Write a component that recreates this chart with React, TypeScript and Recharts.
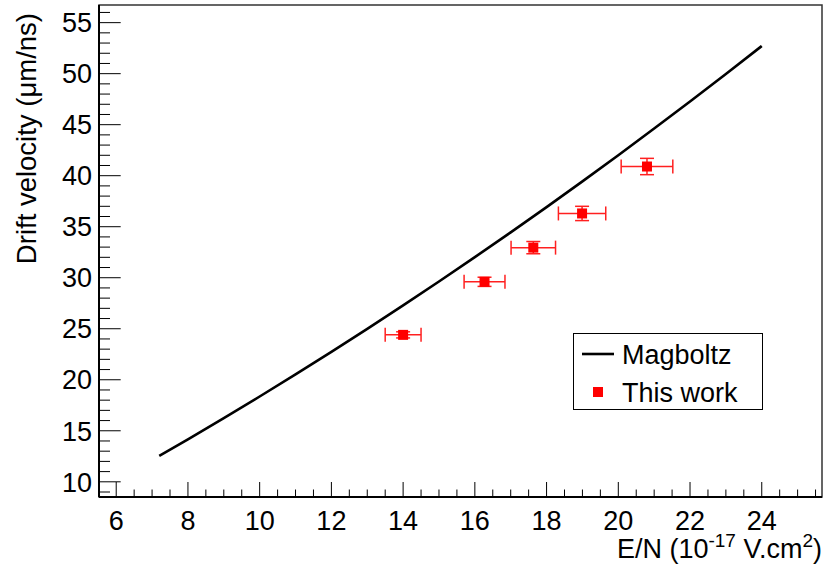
import React from 'react';
import {
  ComposedChart,
  Line,
  Scatter,
  ErrorBar,
  XAxis,
  YAxis,
  ReferenceArea,
} from 'recharts';

// Magboltz simulation curve
const magX = [7.2, 8, 9, 10, 11, 12, 13, 14, 15, 16, 17, 18, 19, 20, 21, 22, 23, 24];
const magY = [12.53, 14.16, 16.24, 18.36, 20.52, 22.73, 24.99, 27.29, 29.63, 32.02, 34.45, 36.92, 39.44, 42.01, 44.62, 47.27, 49.97, 52.71];

// measured points ("This work")
const workX = [14.0, 16.27, 17.63, 18.99, 20.8];
const workY = [24.4, 29.6, 32.95, 36.3, 40.9];
const workEx = [0.5, 0.57, 0.62, 0.66, 0.72];
const workEy = [0.3, 0.45, 0.6, 0.7, 0.8];

const xMajor = [6, 8, 10, 12, 14, 16, 18, 20, 22, 24];
const yMajor = [10, 15, 20, 25, 30, 35, 40, 45, 50, 55];

const X_MIN = 5.52;
const X_MAX = 25.68;
const Y_MIN = 8.51;
const Y_MAX = 56.73;

const W = 827;
const H = 567;
const LEFT = 99;
const RIGHT = 822;
const TOP = 5;
const BOTTOM = 497;
const FONT = "'Liberation Sans', Arial, Helvetica, sans-serif";

const xTicks: number[] = [];
for (let v = 6; v <= 25.5; v += 0.5) xTicks.push(v);
const yTicks: number[] = [];
for (let v = 9; v <= 56; v += 1) yTicks.push(v);

const magData = magX.map((x, i) => ({ x, y: magY[i] }));
const workData = workX.map((x, i) => ({ x, y: workY[i], ex: workEx[i], ey: workEy[i] }));

function XTick(props: any) {
  const { x, payload } = props;
  const major = xMajor.includes(payload.value);
  const len = major ? 15 : 7.5;
  return (
    <g>
      <line x1={x} x2={x} y1={BOTTOM} y2={BOTTOM - len} stroke="#000" strokeWidth={1} />
      {major && (
        <text x={x} y={530} textAnchor="middle" fontSize={27} fontFamily={FONT} fill="#000">
          {payload.value}
        </text>
      )}
    </g>
  );
}

function YTick(props: any) {
  const { y, payload } = props;
  const major = yMajor.includes(payload.value);
  const len = major ? 21.7 : 11;
  return (
    <g>
      <line x1={LEFT} x2={LEFT + len} y1={y} y2={y} stroke="#000" strokeWidth={1} />
      {major && (
        <text x={92} y={y} dy="0.36em" textAnchor="end" fontSize={27} fontFamily={FONT} fill="#000">
          {payload.value}
        </text>
      )}
    </g>
  );
}

function SquareMarker(props: any) {
  const { cx, cy } = props;
  return <rect x={cx - 5} y={cy - 5} width={10} height={10} fill="#ff0000" />;
}

function YTitle(props: any) {
  const vb = props.viewBox || { x: 0, y: TOP };
  return (
    <text
      transform={`translate(${vb.x + 36}, ${vb.y + 8}) rotate(-90)`}
      textAnchor="end"
      fontSize={27.5}
      fontFamily={FONT}
      fill="#000"
    >
      Drift velocity (μm/ns)
    </text>
  );
}

function XTitle(props: any) {
  const vb = props.viewBox || { x: LEFT, width: RIGHT - LEFT };
  return (
    <text x={vb.x + vb.width} y={558} textAnchor="end" fontSize={27} fontFamily={FONT} fill="#000">
      E/N (10
      <tspan dy={-11} fontSize={19}>-17</tspan>
      <tspan dy={11}> V.cm</tspan>
      <tspan dy={-11} fontSize={19}>2</tspan>
      <tspan dy={11}>)</tspan>
    </text>
  );
}

export default function App() {
  return (
    <div style={{ position: 'relative', width: W, height: H, background: '#fff' }}>
      <style>{'body{margin:0}'}</style>
      <ComposedChart
        width={W}
        height={H}
        margin={{ top: TOP, right: W - RIGHT, bottom: 0, left: 0 }}
      >
        <XAxis
          type="number"
          dataKey="x"
          domain={[X_MIN, X_MAX]}
          ticks={xTicks}
          interval={0}
          allowDataOverflow
          height={H - BOTTOM}
          tickLine={false}
          axisLine={{ stroke: '#000', strokeWidth: 2 }}
          tick={<XTick />}
          label={<XTitle />}
        />
        <YAxis
          type="number"
          dataKey="y"
          domain={[Y_MIN, Y_MAX]}
          ticks={yTicks}
          interval={0}
          allowDataOverflow
          width={LEFT}
          tickLine={false}
          axisLine={{ stroke: '#000', strokeWidth: 2 }}
          tick={<YTick />}
          label={<YTitle />}
        />
        <ReferenceArea
          x1={X_MIN}
          x2={X_MAX}
          y1={Y_MIN}
          y2={Y_MAX}
          fill="none"
          stroke="#333"
          strokeWidth={1.5}
          ifOverflow="extendDomain"
        />
        <Line
          data={magData}
          dataKey="y"
          type="monotone"
          stroke="#000"
          strokeWidth={2.6}
          dot={false}
          activeDot={false}
          isAnimationActive={false}
        />
        <Scatter data={workData} dataKey="y" shape={<SquareMarker />} isAnimationActive={false}>
          <ErrorBar dataKey="ex" direction="x" width={7} stroke="#ff2020" strokeWidth={1.5} isAnimationActive={false} />
          <ErrorBar dataKey="ey" direction="y" width={7} stroke="#ff2020" strokeWidth={1.5} isAnimationActive={false} />
        </Scatter>
      </ComposedChart>
      <div
        style={{
          position: 'absolute',
          left: 573,
          top: 333,
          width: 188,
          height: 75,
          border: '1.5px solid #000',
          background: '#fff',
          fontFamily: FONT,
          fontSize: 27,
        }}
      >
        <svg width={188} height={75} style={{ position: 'absolute', left: 0, top: 0 }}>
          <line x1={8} x2={40} y1={20} y2={20} stroke="#000" strokeWidth={2.6} />
          <rect x={19} y={53} width={10} height={10} fill="#ff0000" />
          <text x={48} y={20} dy="0.36em" fontSize={27} fontFamily={FONT} fill="#000">Magboltz</text>
          <text x={48} y={58} dy="0.36em" fontSize={27} fontFamily={FONT} fill="#000">This work</text>
        </svg>
      </div>
    </div>
  );
}
